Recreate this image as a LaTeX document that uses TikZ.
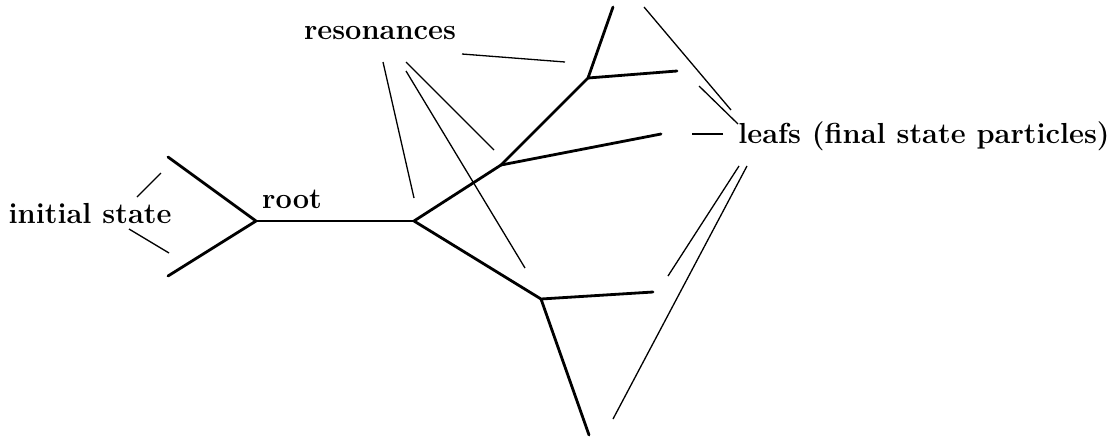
\documentclass[tikz,border=0pt]{standalone}
\begin{document}
\begin{tikzpicture}[x=1pt,y=-1pt,
  lbl/.style={font=\fontsize{29}{33}\selectfont\bfseries, inner sep=0pt},
  edge/.style={line width=2.8pt, line cap=round, line join=round},
  ptr/.style={line width=1.3pt}]
\useasboundingbox (0,0) rectangle (1116,437);
% tree vertices
\coordinate (in1) at (168,157);
\coordinate (in2) at (168,276);
\coordinate (r0) at (256,221);
\coordinate (v1) at (414,221);
\coordinate (v2) at (501,165);
\coordinate (v3) at (541,299);
\coordinate (v4) at (588,78);
\coordinate (l1) at (613,7);
\coordinate (l2) at (677,71);
\coordinate (l3) at (661,134);
\coordinate (l4) at (653,292);
\coordinate (l5) at (589,435);
% tree edges
\draw[edge] (in1) -- (r0) -- (in2);
\draw[edge] (r0) -- (v1);
\draw[edge] (v1) -- (v2) -- (v4) -- (l1);
\draw[edge] (v4) -- (l2);
\draw[edge] (v2) -- (l3);
\draw[edge] (v1) -- (v3) -- (l4);
\draw[edge] (v3) -- (l5);
% labels
\node[lbl] (init) at (90,214) {initial state};
\node[lbl] (root) at (292,199) {root};
\node[lbl] (res) at (380,33) {resonances};
\node[lbl] (leafs) at (924,136) {leafs (final state particles)};
% pointer coordinates
\coordinate (ia1) at (137,197); \coordinate (ib1) at (161,173);
\coordinate (ia2) at (129,229); \coordinate (ib2) at (169,253);
\coordinate (ra1) at (462,54);  \coordinate (rb1) at (565,62);
\coordinate (ra2) at (383,62);  \coordinate (rb2) at (414,198);
\coordinate (ra3) at (406,62);  \coordinate (rb3) at (494,150);
\coordinate (ra4) at (406,71);  \coordinate (rb4) at (525,268);
\coordinate (la1) at (731,110); \coordinate (lb1) at (644,7);
\coordinate (la2) at (738,124); \coordinate (lb2) at (699,86);
\coordinate (la3) at (723,134); \coordinate (lb3) at (692,134);
\coordinate (la4) at (739,166); \coordinate (lb4) at (668,276);
\coordinate (la5) at (747,166); \coordinate (lb5) at (613,419);
% pointers
\draw[ptr] (ia1) -- (ib1);
\draw[ptr] (ia2) -- (ib2);
\draw[ptr] (ra1) -- (rb1);
\draw[ptr] (ra2) -- (rb2);
\draw[ptr] (ra3) -- (rb3);
\draw[ptr] (ra4) -- (rb4);
\draw[ptr] (la1) -- (lb1);
\draw[ptr] (la2) -- (lb2);
\draw[ptr] (la3) -- (lb3);
\draw[ptr] (la4) -- (lb4);
\draw[ptr] (la5) -- (lb5);
\end{tikzpicture}
\end{document}
